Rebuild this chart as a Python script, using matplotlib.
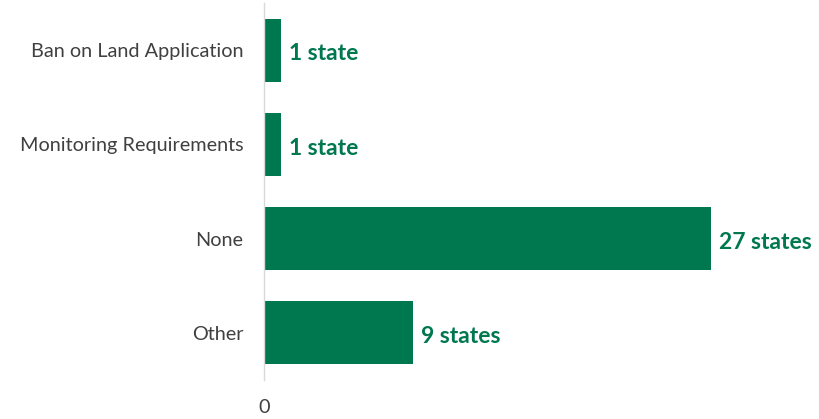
import matplotlib
matplotlib.use("Agg")
from matplotlib import pyplot as plt

# categories top to bottom, number of states
categories = ["Ban on Land Application", "Monitoring Requirements", "None", "Other"]
states = [1, 1, 27, 9]
value_labels = ["1 state", "1 state", "27 states", "9 states"]

plt.rcParams["font.family"] = ["Lato", "DejaVu Sans"]

green = "#00784F"
grey_text = "#404040"

fig = plt.figure(figsize=(8.2, 4.19), dpi=100)
ax = fig.add_axes([264 / 820, 1 - 380 / 419, 556 / 820, 377 / 419])

pos = list(range(len(categories)))
ax.barh(pos, states, height=0.667, color=green)

# value labels just to the right of each bar
for p, v, lab in zip(pos, states, value_labels):
    ax.text(v + 0.5, p + 0.04, lab, va="center", ha="left",
            fontsize=16.5, fontweight="bold", color=green)

ax.set_ylim(len(categories) - 0.5, -0.5)
ax.set_xlim(0, 33.6)
ax.set_yticks(pos)
ax.set_yticklabels(categories, fontsize=14.3, color=grey_text)
ax.set_xticks([0])
ax.set_xticklabels(["0"], fontsize=14.3, color=grey_text)
ax.tick_params(axis="both", length=0)
ax.tick_params(axis="y", pad=15)
ax.tick_params(axis="x", pad=14)

for side in ["top", "right", "bottom"]:
    ax.spines[side].set_visible(False)
ax.spines["left"].set_color("#D9D9D9")
ax.spines["left"].set_linewidth(1)

fig.savefig("out.png", dpi=100)
